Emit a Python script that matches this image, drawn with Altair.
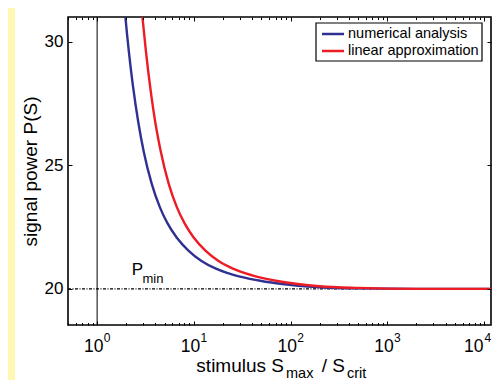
import altair as alt
import pandas as pd

FONT = "Liberation Sans"

# ---- data ----
series = ["numerical analysis", "linear approximation"]
colors = ["#2E3192", "#ED1C24"]

blue_S = [1.9, 1.96, 2.13, 2.35, 2.67, 3.03, 3.67, 4.45, 5.33, 6.67, 8.73, 12,
          16.7, 22, 30, 50, 78, 120, 200, 500, 2000, 11800]
blue_P = [31.6, 31.0, 29.59, 28.19, 26.72, 25.56, 24.25, 23.31, 22.66, 22.07, 21.56, 21.13,
          20.83, 20.65, 20.5, 20.32, 20.21, 20.13, 20.07, 20.02, 20.0, 20.0]
red_S = [2.85, 2.94, 3.2, 3.53, 4.0, 4.55, 5.5, 6.67, 8.0, 10, 13.1, 18,
         25, 40, 78, 200, 500, 2000, 11800]
red_P = [31.55, 31.0, 29.59, 28.19, 26.72, 25.56, 24.25, 23.31, 22.66, 22.07, 21.56, 21.13,
         20.83, 20.55, 20.3, 20.11, 20.04, 20.0, 20.0]

p_min = [20]
s_unit = [1]

x_domain = [0.5, 11800]
y_domain = [18.54, 31.0]
x_major = [1, 10, 100, 1000, 10000]
x_exponents = ["0", "1", "2", "3", "4"]
x_minor = [0.5, 0.6, 0.7, 0.8, 0.9,
           2, 3, 4, 5, 6, 7, 8, 9,
           20, 30, 40, 50, 60, 70, 80, 90,
           200, 300, 400, 500, 600, 700, 800, 900,
           2000, 3000, 4000, 5000, 6000, 7000, 8000, 9000]
y_ticks = [20, 25, 30]


def xs():
    return alt.Scale(type="log", domain=x_domain, nice=False)


def ys():
    return alt.Scale(domain=y_domain, nice=False, zero=False)


def X(field="S", axis=None):
    return alt.X(f"{field}:Q", scale=xs(), axis=axis)


def Y(field="P", axis=None):
    return alt.Y(f"{field}:Q", scale=ys(), axis=axis)


one = pd.DataFrame({"S": [1.0], "P": [20.0]})

# left yellow strip
strip = alt.Chart(one).mark_rect(color="#FFF7B2").encode(
    x=alt.value(-60), x2=alt.value(-53), y=alt.value(-9), y2=alt.value(363))

vline = alt.Chart(pd.DataFrame({"S": s_unit})).mark_rule(
    color="black", strokeWidth=1).encode(x=X())
hline = alt.Chart(pd.DataFrame({"P": p_min})).mark_rule(
    color="black", strokeWidth=1.2, strokeDash=[3, 1.5, 1, 1.5]).encode(y=Y())

df_blue = pd.DataFrame({"S": blue_S, "P": blue_P, "series": series[0]})
df_red = pd.DataFrame({"S": red_S, "P": red_P, "series": series[1]})

color = alt.Color("series:N", scale=alt.Scale(domain=series, range=colors),
                  legend=None)


def curve(df):
    return alt.Chart(df).mark_line(clip=True, strokeWidth=2.4,
                                   interpolate="monotone").encode(
        x=X(), y=Y(), color=color)


blue = curve(df_blue)
red = curve(df_red)

# ---- legend box (top right, inside the plot) ----
leg_box = alt.Chart(one).mark_rect(fill="white", stroke="black",
                                   strokeWidth=1.2).encode(
    x=alt.value(248), x2=alt.value(414), y=alt.value(6), y2=alt.value(44))
leg_layers = [leg_box]
for i, (name, col) in enumerate(zip(series, colors)):
    yy = 17 + 17 * i
    leg_layers.append(alt.Chart(one).mark_rule(color=col, strokeWidth=2.5).encode(
        x=alt.value(254), x2=alt.value(276), y=alt.value(yy)))
    leg_layers.append(alt.Chart(one).mark_text(
        align="left", baseline="middle", font=FONT, fontSize=14.5,
        color="black").encode(x=alt.value(280), y=alt.value(yy),
                              text=alt.value(name)))

# P_min annotation (anchored in data coordinates)
pmin_P = alt.Chart(one).mark_text(align="left", baseline="alphabetic",
                                  font=FONT, fontSize=17, color="black").encode(
    x=X(), y=Y(), text=alt.value("P")
).transform_calculate(S="2.284", P="20.567")
pmin_sub = alt.Chart(one).mark_text(align="left", baseline="alphabetic",
                                    font=FONT, fontSize=13, color="black",
                                    dx=10.6, dy=8.3).encode(
    x=X(), y=Y(), text=alt.value("min")
).transform_calculate(S="2.284", P="20.567")

# x tick labels 10^k
ticks_df = pd.DataFrame({"S": x_major, "e": x_exponents})


def tick_text(txt_enc, filt, align, dx, y, size):
    return alt.Chart(ticks_df).mark_text(align=align, baseline="alphabetic",
                                         font=FONT, fontSize=size, color="black",
                                         dx=dx).encode(
        x=X(), y=alt.value(y), text=txt_enc).transform_filter(filt)


ten = tick_text(alt.value("10"), "datum.S < 10000", "right", 6.3, 335, 17.5)
ten_last = tick_text(alt.value("10"), "datum.S >= 10000", "right", -0.5, 335, 17.5)
expo = tick_text("e:N", "datum.S < 10000", "left", 6.6, 325, 12)
expo_last = tick_text("e:N", "datum.S >= 10000", "left", 0.5, 325, 12)


def label(txt, x, y, size, angle=0, align="left", baseline="alphabetic"):
    kw = dict(align=align, baseline=baseline, font=FONT, fontSize=size, color="black")
    if angle:
        kw["angle"] = angle
    return alt.Chart(one).mark_text(**kw).encode(
        x=alt.value(x), y=alt.value(y), text=alt.value(txt))


xt1 = label("stimulus S", 216, 355, 19, align="right")
xt2 = label("max", 218, 361, 14.5)
xt3 = label("/ S", 277, 355, 19, align="right")
xt4 = label("crit", 279, 361, 14.5)
yt = label("signal power P(S)", -37.5, 154.5, 19, angle=270, align="center",
           baseline="middle")


def tick_axis(orient, values, size, labels=False):
    kw = dict(orient=orient, values=values, tickSize=size, offset=-size,
              domain=False, grid=False, labels=labels, ticks=True,
              tickColor="black", tickWidth=1, title=None, zindex=1)
    if labels:
        kw.update(labelFont=FONT, labelFontSize=17, labelColor="black",
                  labelPadding=5)
    return alt.Axis(**kw)


def axis_layer(xaxis, yaxis):
    return alt.Chart(one).mark_point(opacity=0).encode(
        x=X(axis=xaxis), y=Y(axis=yaxis))


ax1 = axis_layer(tick_axis("bottom", x_major, 4), tick_axis("left", y_ticks, 4, labels=True))
ax2 = axis_layer(tick_axis("top", x_major, 4), tick_axis("right", y_ticks, 4))
ax3 = axis_layer(tick_axis("bottom", x_minor, 2.5), None)
ax4 = axis_layer(tick_axis("top", x_minor, 2.5), None)

chart = alt.layer(
    strip, vline, hline, blue, red, *leg_layers, pmin_P, pmin_sub,
    ten, ten_last, expo, expo_last, xt1, xt2, xt3, xt4, yt,
    ax1, ax2, ax3, ax4
).resolve_scale(
    x="independent", y="independent"
).properties(
    width=423, height=308,
    autosize=alt.AutoSizeParams(type="none"),
    padding={"left": 60, "top": 9, "right": 5, "bottom": 55},
    background="white",
).configure_view(stroke="black", strokeWidth=1.6)

chart.save("out.html", embed_options={"renderer": "svg", "actions": False})
